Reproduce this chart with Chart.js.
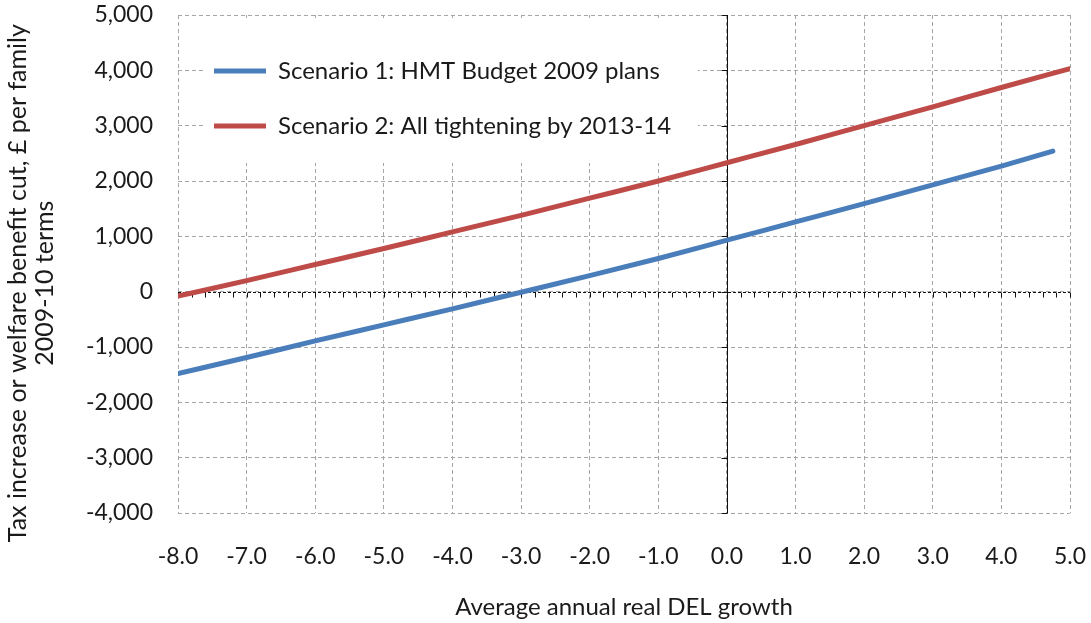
<!DOCTYPE html>
<html>
<head>
<meta charset="utf-8">
<script src="https://cdn.jsdelivr.net/npm/chart.js@4/dist/chart.umd.min.js"></script>
<style>
  html, body { margin: 0; padding: 0; background: #fff; }
  #wrap { width: 1091px; height: 623px; position: relative; }
</style>
</head>
<body>
<div id="wrap"><canvas id="myChart"></canvas></div>
<script>
// Values
const seriesNames = ['Scenario 1: HMT Budget 2009 plans', 'Scenario 2: All tightening by 2013-14'];
const growth1 = [-8, -7, -6, -5, -4, -3, -2, -1, 0, 1, 2, 3, 4, 4.75];
const scenario1 = [-1480, -1190, -890, -600, -310, -10, 290, 600, 930, 1260, 1590, 1930, 2270, 2540];
const growth2 = [-8, -7, -6, -5, -4, -3, -2, -1, 0, 1, 2, 3, 4, 5];
const scenario2 = [-80, 200, 490, 780, 1080, 1380, 1690, 2000, 2330, 2660, 3000, 3340, 3690, 4030];
// trailing spaces nudge the rotated title down a little, like the original
const yTitle = ['Tax increase or welfare benefit cut, \u00a3 per family      ', '2009-10 terms      '];
const xTitle = 'Average annual real DEL growth';

const font = 'Lato, "Open Sans", sans-serif';
const textColor = '#1a1a1a';
const gridColor = '#a6a6a6';

function toPoints(xs, ys) {
  return xs.map((x, i) => ({ x: x, y: ys[i] }));
}

// zero axes with their small tick marks
const zeroAxes = {
  id: 'zeroAxes',
  beforeDatasetsDraw(chart) {
    const { ctx, chartArea: a, scales: { x, y } } = chart;
    const y0 = Math.round(y.getPixelForValue(0)) + 0.5;
    const x0 = Math.round(x.getPixelForValue(0)) + 0.5;
    ctx.save();
    ctx.strokeStyle = '#111';
    ctx.lineWidth = 1;
    // horizontal axis
    ctx.setLineDash([3, 2]);
    ctx.beginPath();
    ctx.moveTo(a.left, y0);
    ctx.lineTo(a.right, y0);
    ctx.stroke();
    ctx.setLineDash([]);
    ctx.beginPath();
    for (let v = x.min; v <= x.max + 1e-6; v += 0.2) {
      const px = Math.round(x.getPixelForValue(v)) + 0.5;
      ctx.moveTo(px, y0);
      ctx.lineTo(px, y0 + 5);
    }
    ctx.stroke();
    // vertical axis
    ctx.beginPath();
    ctx.moveTo(x0, a.top);
    ctx.lineTo(x0, a.bottom);
    for (let v = y.min; v <= y.max; v += 1000) {
      const py = Math.round(y.getPixelForValue(v)) + 0.5;
      ctx.moveTo(x0 - 6, py);
      ctx.lineTo(x0, py);
    }
    ctx.stroke();
    ctx.restore();
  }
};

// legend sits inside the plot on a white box
const legendBox = {
  id: 'legendBox',
  afterLayout(chart) {
    const lg = chart.legend;
    lg.top += 28;
    lg.left += 5;
    if (!lg._boxed) {
      const orig = lg.draw.bind(lg);
      lg.draw = function () {
        const ctx = chart.ctx;
        const a = chart.chartArea;
        ctx.save();
        ctx.fillStyle = '#fff';
        ctx.fillRect(a.left + 25, a.top + 3, 495, 145);
        ctx.restore();
        orig();
      };
      lg._boxed = true;
    }
  }
};

const chartConfig = {
  type: 'line',
  data: {
    datasets: [{
      label: seriesNames[0],
      data: toPoints(growth1, scenario1),
      borderColor: '#4a7ebb',
      backgroundColor: '#4a7ebb',
      borderWidth: 5,
      borderCapStyle: 'round',
      pointRadius: 0,
      cubicInterpolationMode: 'monotone',
      fill: false
    }, {
      label: seriesNames[1],
      data: toPoints(growth2, scenario2),
      borderColor: '#be4b48',
      backgroundColor: '#be4b48',
      borderWidth: 5,
      borderCapStyle: 'round',
      pointRadius: 0,
      cubicInterpolationMode: 'monotone',
      fill: false
    }]
  },
  options: {
    responsive: true,
    maintainAspectRatio: false,
    animation: false,
    layout: { padding: { left: 0, top: 15, right: 21, bottom: 0 } },
    scales: {
      x: {
        type: 'linear',
        min: -8,
        max: 5,
        ticks: {
          stepSize: 1,
          padding: 0,
          color: textColor,
          font: { family: font, size: 23 },
          callback: v => v.toFixed(1)
        },
        grid: { color: gridColor, drawTicks: true, tickLength: 30, tickColor: 'rgba(0,0,0,0)' },
        border: { display: false, dash: [4, 3] },
        title: {
          display: true,
          text: xTitle,
          color: textColor,
          font: { family: font, size: 24 },
          padding: { top: 0, bottom: 1 }
        },
        afterFit(scale) { scale.height = 110; }
      },
      y: {
        min: -4000,
        max: 5000,
        ticks: {
          stepSize: 1000,
          padding: 0,
          color: textColor,
          font: { family: font, size: 23 },
          callback: v => v.toLocaleString('en-US')
        },
        grid: { color: gridColor, drawTicks: true, tickLength: 25, tickColor: 'rgba(0,0,0,0)' },
        border: { display: false, dash: [4, 3] },
        title: {
          display: true,
          text: yTitle,
          color: textColor,
          font: { family: font, size: 25, lineHeight: 1.08 },
          padding: { top: 4, bottom: 0 }
        },
        afterFit(scale) { scale.width = 178; }
      }
    },
    plugins: {
      legend: {
        position: 'chartArea',
        align: 'start',
        labels: {
          usePointStyle: true,
          pointStyle: 'line',
          pointStyleWidth: 52,
          padding: 31,
          color: textColor,
          font: { family: font, size: 24 }
        }
      },
      tooltip: { enabled: false }
    }
  },
  plugins: [zeroAxes, legendBox]
};

const myChart = new Chart(document.getElementById('myChart'), chartConfig);
</script>
</body>
</html>
